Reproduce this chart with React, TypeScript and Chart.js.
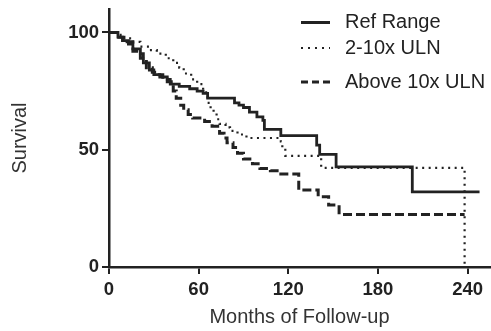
import React, { useEffect, useRef } from "react";
import { Chart, registerables } from "chart.js";

Chart.register(...registerables);

const refRangeMonths = [0, 6, 9, 13, 16, 21, 23, 27, 30, 34, 39, 41, 47, 54, 59, 63, 66, 84, 87, 90, 94, 99, 103, 104, 115, 139, 141, 152, 203, 248];
const refRangeSurvival = [100, 98, 96.5, 95, 93, 91, 87, 84, 82, 81, 80, 78, 77, 76, 75, 74, 72, 70, 69, 68, 66, 64, 62.5, 58.7, 56, 52, 48, 42.7, 32, 32];

const twoTenMonths = [0, 5, 9, 15, 21, 27, 32, 38, 43, 47, 50, 55, 59, 63, 66, 68, 70, 72, 74, 78, 81, 86, 92, 115, 116, 118, 142, 238, 238];
const twoTenSurvival = [100, 99, 97.5, 96, 94, 92.5, 91, 89, 87, 85, 82.5, 80, 78, 74.5, 70, 67.5, 65.5, 63, 61, 59.5, 58, 56.5, 55, 53.5, 50, 47.4, 42.3, 42.3, 0];

const aboveMonths = [0, 5, 10, 16, 21, 25, 29, 32, 36, 39, 43, 45, 48, 50, 53, 56, 64, 69, 74, 77, 79, 83, 86, 90, 96, 101, 108, 114, 127, 140, 147, 154, 238];
const aboveSurvival = [100, 98, 96, 92, 89, 85, 83, 82, 80, 79, 75, 72, 69, 67, 65, 63.5, 62, 60, 57, 55, 53, 51, 48.5, 46, 44, 42, 41, 39.6, 32.8, 30, 26.4, 22.4, 22.4];

const seriesNames = ["Ref Range", "2-10x ULN", "Above 10x ULN"];
const xTicks = [0, 60, 120, 180, 240];
const yTicks = [0, 50, 100];

const INK = "#222222";
const FONT = "'Liberation Sans', Arial, Helvetica, sans-serif";

const toPoints = (xs: number[], ys: number[]) => xs.map((x, i) => ({ x, y: ys[i] }));

const legendPlugin = {
  id: "customLegend",
  afterDraw(chart: any) {
    const ctx = chart.ctx;
    const items = [
      { label: seriesNames[0], y: 22.5, dash: [] as number[], width: 3 },
      { label: seriesNames[1], y: 48, dash: [2, 5], width: 2.2 },
      { label: seriesNames[2], y: 82, dash: [7, 4], width: 3 },
    ];
    ctx.save();
    items.forEach((it) => {
      ctx.strokeStyle = INK;
      ctx.lineWidth = it.width;
      ctx.setLineDash(it.dash);
      ctx.beginPath();
      ctx.moveTo(301, it.y);
      ctx.lineTo(330, it.y);
      ctx.stroke();
      ctx.setLineDash([]);
      ctx.fillStyle = INK;
      ctx.font = `20px ${FONT}`;
      ctx.textAlign = "left";
      ctx.textBaseline = "middle";
      ctx.fillText(it.label, 345, it.y);
    });
    ctx.restore();
  },
};

export default function App() {
  const canvasRef = useRef<HTMLCanvasElement | null>(null);

  useEffect(() => {
    document.body.style.margin = "0";
    const canvas = canvasRef.current;
    if (!canvas) return;
    const chart = new Chart(canvas, {
      type: "line",
      data: {
        datasets: [
          {
            label: seriesNames[0],
            data: toPoints(refRangeMonths, refRangeSurvival),
            borderColor: INK,
            borderWidth: 2.8,
            stepped: "before",
            pointRadius: 0,
            fill: false,
          },
          {
            label: seriesNames[1],
            data: toPoints(twoTenMonths, twoTenSurvival),
            borderColor: INK,
            borderWidth: 2.2,
            borderDash: [2, 4.5],
            stepped: "before",
            pointRadius: 0,
            fill: false,
          },
          {
            label: seriesNames[2],
            data: toPoints(aboveMonths, aboveSurvival),
            borderColor: INK,
            borderWidth: 3,
            borderDash: [9, 4],
            stepped: "before",
            pointRadius: 0,
            fill: false,
          },
        ],
      },
      options: {
        animation: false,
        responsive: false,
        layout: { padding: { top: 9, right: 1, left: 0, bottom: 0 } },
        plugins: {
          legend: { display: false },
          tooltip: { enabled: false },
        },
        scales: {
          x: {
            type: "linear",
            min: 0,
            max: 255,
            afterBuildTicks: (s: any) => {
              s.ticks = xTicks.map((v) => ({ value: v }));
            },
            afterFit: (s: any) => {
              s.height = 64;
              s.paddingLeft = 0;
              s.paddingRight = 0;
              s.paddingTop = 0;
              s.paddingBottom = 0;
            },
            ticks: {
              color: INK,
              padding: 5,
              font: { family: FONT, size: 18.5, weight: "bold" },
            },
            grid: {
              display: true,
              drawOnChartArea: false,
              drawTicks: true,
              tickLength: 7,
              color: INK,
              lineWidth: 2,
            },
            border: { display: true, color: INK, width: 2.5 },
            title: {
              display: true,
              text: "Months of Follow-up",
              color: "#333333",
              padding: { top: 0, bottom: 2 },
              font: { family: FONT, size: 20 },
            },
          },
          y: {
            type: "linear",
            min: 0,
            max: 110,
            afterBuildTicks: (s: any) => {
              s.ticks = yTicks.map((v) => ({ value: v }));
            },
            afterFit: (s: any) => {
              s.width = 109;
              s.paddingLeft = 0;
              s.paddingRight = 0;
              s.paddingTop = 0;
              s.paddingBottom = 0;
            },
            ticks: {
              color: INK,
              padding: 3,
              font: { family: FONT, size: 18.5, weight: "bold" },
            },
            grid: {
              display: true,
              drawOnChartArea: false,
              drawTicks: true,
              tickLength: 7,
              color: INK,
              lineWidth: 2,
            },
            border: { display: true, color: INK, width: 2.5 },
            title: {
              display: true,
              text: "Survival",
              color: "#333333",
              padding: { top: 8, bottom: 0 },
              font: { family: FONT, size: 20 },
            },
          },
        },
      },
      plugins: [legendPlugin],
    });
    return () => chart.destroy();
  }, []);

  return (
    <div style={{ width: 491, height: 331 }}>
      <canvas ref={canvasRef} width={491} height={331} />
    </div>
  );
}
